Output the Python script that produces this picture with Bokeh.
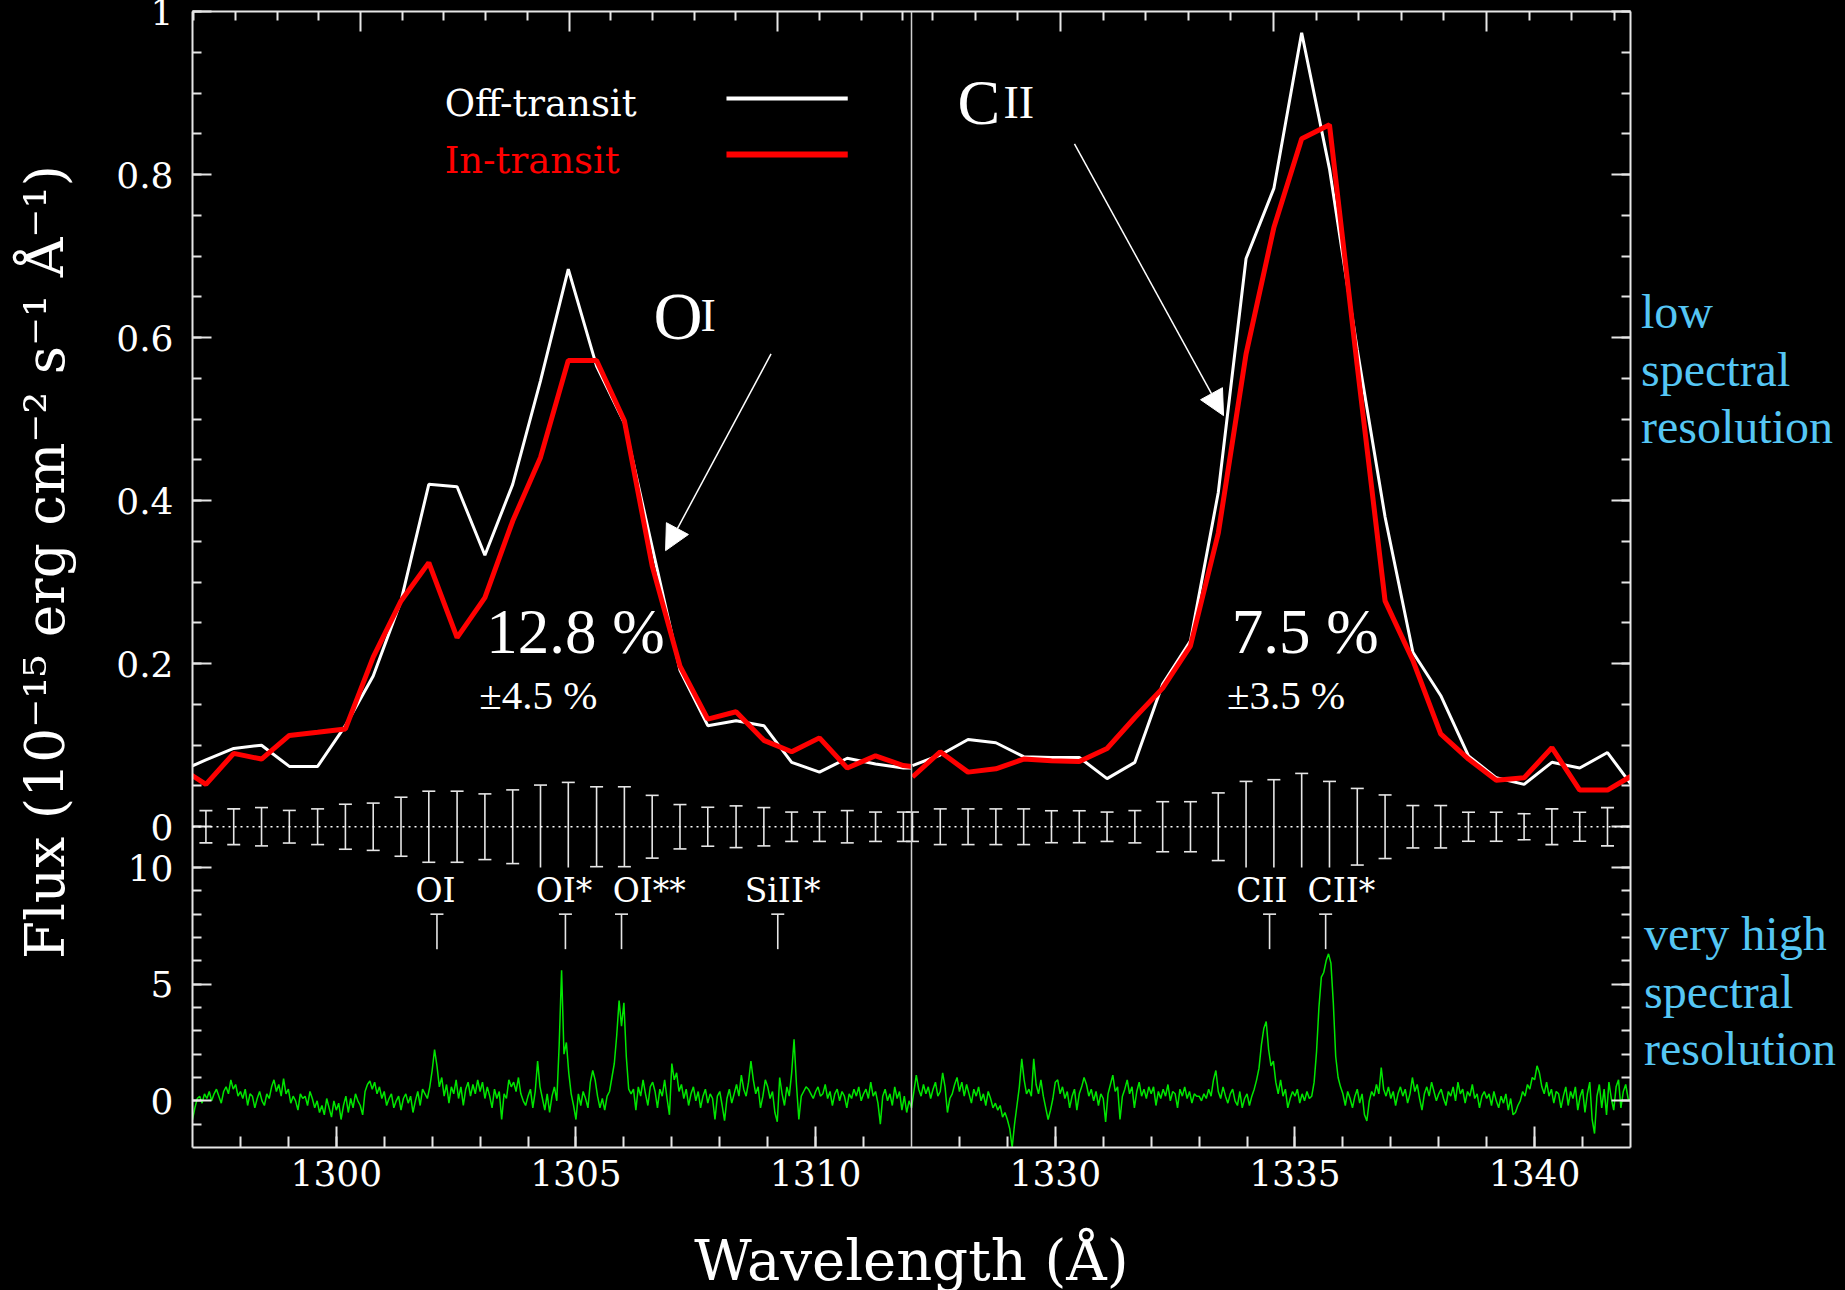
import numpy as np
from bokeh.plotting import figure
from bokeh.layouts import row
from bokeh.models import (Range1d, LinearAxis, FixedTicker, Label, Arrow, NormalHead, Span,
                          Div, CustomJSTickFormatter)
from bokeh.embed import file_html
from bokeh.resources import INLINE
from bokeh.core.properties import value

# ---------------------------------------------------------------- data
# wavelength windows shown side by side (Angstrom)
X_LEFT = (1297.0, 1312.0)
X_RIGHT = (1327.0, 1342.0)

# low-resolution spectra, OI window (bin centres)
OI_BINS = [1297.28, 1297.86, 1298.44, 1299.02, 1299.61, 1300.19, 1300.77, 1301.35,
           1301.93, 1302.52, 1303.10, 1303.68, 1304.26, 1304.84, 1305.43, 1306.01,
           1306.59, 1307.17, 1307.75, 1308.34, 1308.92, 1309.50, 1310.08, 1310.66,
           1311.25, 1311.83]
OI_EDGES = (1296.70, 1312.00)          # points where the curves meet the window edges
OI_OFF = [0.067, 0.082, 0.096, 0.100, 0.074, 0.074, 0.124, 0.185, 0.277, 0.420,
          0.417, 0.333, 0.420, 0.547, 0.684, 0.565, 0.495, 0.343, 0.192, 0.124,
          0.130, 0.124, 0.079, 0.067, 0.084, 0.077, 0.072, 0.072]
OI_IN = [0.074, 0.052, 0.090, 0.083, 0.112, 0.116, 0.120, 0.208, 0.277, 0.324,
         0.232, 0.281, 0.375, 0.453, 0.572, 0.572, 0.498, 0.320, 0.197, 0.132,
         0.141, 0.106, 0.092, 0.109, 0.072, 0.087, 0.075, 0.074]
OI_ERR = [0.0198, 0.0219, 0.0235, 0.0200, 0.0219, 0.0276, 0.0290, 0.0362, 0.0436,
          0.0436, 0.0403, 0.0452, 0.0511, 0.0544, 0.0490, 0.0490, 0.0385, 0.0272,
          0.0239, 0.0256, 0.0235, 0.0180, 0.0180, 0.0198, 0.0180, 0.0180]

# low-resolution spectra, CII window
CII_BINS = [1327.02, 1327.60, 1328.18, 1328.76, 1329.34, 1329.92, 1330.50, 1331.08,
            1331.66, 1332.24, 1332.82, 1333.40, 1333.98, 1334.56, 1335.14, 1335.72,
            1336.30, 1336.88, 1337.46, 1338.04, 1338.62, 1339.20, 1339.78, 1340.36,
            1340.94, 1341.52]
CII_EDGE = 1342.10
CII_OFF = [0.075, 0.088, 0.107, 0.103, 0.086, 0.085, 0.085, 0.059, 0.079, 0.175,
           0.228, 0.410, 0.697, 0.783, 0.974, 0.807, 0.585, 0.380, 0.214, 0.161,
           0.087, 0.060, 0.052, 0.079, 0.072, 0.091, 0.045]
CII_IN = [0.061, 0.092, 0.067, 0.071, 0.083, 0.081, 0.080, 0.096, 0.134, 0.170,
          0.222, 0.360, 0.580, 0.735, 0.844, 0.861, 0.565, 0.277, 0.204, 0.114,
          0.083, 0.057, 0.060, 0.097, 0.045, 0.045, 0.065]
CII_ERR = [0.0180, 0.0219, 0.0219, 0.0219, 0.0219, 0.0196, 0.0196, 0.0180, 0.0198,
           0.0307, 0.0307, 0.0415, 0.0556, 0.0577, 0.0654, 0.0556, 0.0470, 0.0390,
           0.0260, 0.0260, 0.0178, 0.0178, 0.0160, 0.0219, 0.0178, 0.0235]

# very high resolution spectrum (sampled every 0.05 A from the window start)
HIRES_STEP = 0.05
HIRES_LEFT = [
    -0.8, -0.3, 0.1, 0.2, -0.1, 0.3, 0.1, 0.4, 0.0, 0.3, 0.5, 0.2, -0.1, 0.4, 0.6, 0.3, 0.9, 0.5, 0.7, 0.2,
    0.4, 0.1, 0.5, -0.2, 0.3, 0.2, -0.3, 0.1, 0.4, 0.0, -0.2, 0.3, 0.1, 0.6, 0.9, 0.4, 0.7, 0.2, 0.95, 0.3,
    0.5, -0.1, 0.2, 0.0, -0.4, 0.3, 0.1, 0.2, -0.2, 0.4, 0.1, -0.3, 0.0, -0.5, -0.2, -0.6, 0.1, -0.3, -0.7, 0.0,
    -0.4, -0.1, -0.8, -0.2, 0.2, -0.5, 0.1, -0.3, 0.3, 0.0, -0.2, -0.6, 0.4, 0.7, 0.85, 0.5, 0.8, 0.3, 0.6, 0.1,
    0.4, -0.2, 0.1, 0.3, -0.3, 0.0, 0.2, -0.4, 0.1, 0.3, -0.1, 0.2, -0.5, 0.0, 0.4, -0.2, 0.5, 0.3, 0.1, 0.6,
    1.3, 2.2, 1.5, 0.6, 1.0, 0.2, 0.7, -0.1, 0.6, 0.3, 0.9, 0.1, 0.6, -0.2, 0.5, 0.8, 0.2, 0.7, 0.3, 0.9,
    0.4, 0.8, 0.1, 0.6, 0.2, -0.3, 0.5, 0.1, 0.4, -0.8, 0.3, 0.1, 0.9, 0.6, 0.8, 0.4, 1.0, 0.3, 0.0, -0.2,
    0.2, 0.5, -0.3, 0.4, 1.7, 0.6, 0.1, -0.4, 0.3, -0.5, 0.2, 0.6, 0.0, 2.4, 5.6, 2.0, 2.5, 1.2, 0.3, -0.2,
    -0.8, 0.3, -0.2, 0.4, 0.1, -0.3, 0.8, 1.3, 0.9, 0.2, -0.3, 0.1, -0.4, 0.2, 0.4, 1.0, 1.6, 2.8, 4.3, 3.2,
    4.2, 1.9, 0.5, 0.3, 0.5, -0.4, 0.6, 0.2, 0.9, 0.3, -0.2, 0.6, 0.8, 0.4, -0.3, 0.5, 0.2, 0.9, 0.1, -0.6,
    1.6, 0.9, 1.2, 0.4, 0.7, 0.1, 0.5, -0.2, 0.3, 0.6, 0.0, 0.4, -0.3, 0.2, 0.5, -0.1, 0.3, 0.1, -0.8, 0.2,
    0.4, -0.2, -0.85, 0.1, 0.5, -0.1, 0.3, 0.7, 0.2, 1.1, 0.5, 0.2, 0.8, 1.7, 0.9, 0.3, 0.6, -0.3, 0.2, 0.9,
    0.6, 0.1, 0.4, -0.5, -0.9, 1.0, 0.3, -0.2, 0.6, 0.2, 1.2, 2.64, 0.7, -0.8, 0.2, 0.4, 0.6, 0.5, 0.3, 0.1,
    0.4, 0.6, 0.2, 0.3, 0.7, 0.1, 0.4, -0.2, 0.3, 0.5, 0.0, 0.4, 0.2, -0.3, 0.3, 0.1, 0.5, 0.2, 0.6, 0.0,
    0.3, 0.5, 0.1, 0.8, 0.2, 0.4, -0.1, -1.0, 0.2, 0.5, 0.0, 0.3, -0.2, 0.6, 0.1, 0.4, -0.4, 0.2, -0.5, 0.0,
    -0.3]
HIRES_RIGHT = [
    -0.3, 0.4, 1.1, 0.5, 0.2, 0.7, 0.3, 0.6, 0.1, 0.5, 0.8, 0.2, 0.4, 1.2, 0.6, -0.5, 0.1, 0.3, 0.7, 1.0,
    0.4, 0.8, 0.2, 0.7, 0.3, -0.1, 0.5, 0.2, 0.6, 0.0, 0.3, -0.2, 0.4, 0.1, -0.3, -0.1, -0.4, -0.2, -0.7, -0.5,
    -0.8, -1.2, -2.0, -1.0, -0.2, 0.6, 1.8, 0.9, 0.3, 0.5, 0.2, 1.8, 0.7, 0.3, 0.9, 0.2, -0.3, -0.8, -0.4, 0.1,
    0.8, 0.9, 0.3, 0.6, 0.1, 0.4, -0.3, 0.2, 0.5, -0.4, 0.3, 0.6, 1.0, 0.7, 0.2, 0.5, 0.0, 0.4, -0.2, 0.3,
    0.1, -0.9, 0.3, 0.7, 1.1, 0.4, 0.6, -0.8, 0.2, 0.5, 0.9, 0.3, 0.6, -0.3, 0.4, 0.8, 0.2, 0.5, 0.1, 0.6,
    0.3, 0.6, -0.2, 0.4, 0.1, 0.5, 0.2, 0.7, 0.0, 0.4, 0.3, -0.3, 0.5, 0.2, 0.6, 0.1, 0.4, -0.1, 0.3, 0.2,
    0.2, 0.0, 0.3, 0.1, 0.5, 0.2, 0.9, 1.3, 0.4, 0.1, 0.6, 0.2, -0.1, 0.3, 0.5, 0.0, -0.2, 0.4, -0.3, 0.1,
    0.3, -0.2, 0.2, 0.5, 0.9, 1.4, 2.4, 3.1, 3.4, 2.2, 1.5, 1.7, 0.8, 0.3, 0.9, 0.2, 0.5, -0.3, 0.1, 0.4,
    0.2, 0.5, -0.1, 0.3, 0.0, 0.4, 0.1, 0.2, 0.8, 2.1, 4.0, 5.3, 5.5, 6.0, 6.3, 5.9, 4.2, 1.9, 1.0, 0.6,
    0.3, -0.2, 0.4, 0.1, -0.3, 0.2, 0.5, -0.1, 0.3, -0.6, -0.86, 0.0, 0.4, 0.2, 0.7, 0.3, 1.43, 0.5, 0.2, 0.6,
    0.1, 0.4, -0.2, 0.3, 0.6, 0.2, 0.5, -0.1, 0.3, 1.0, 0.4, 0.7, 0.1, -0.4, 0.3, 0.6, 0.2, 0.8, 0.4, 0.0,
    0.3, 0.5, 0.1, -0.2, 0.4, 0.2, 0.6, 0.0, 0.8, 0.3, 0.5, -0.1, 0.4, 0.2, 0.7, 0.1, 0.3, -0.3, 0.2, 0.4,
    0.1, 0.3, -0.2, 0.4, 0.0, -0.3, 0.2, -0.1, 0.3, -0.4, 0.1, -0.6, -0.5, -0.2, 0.0, 0.4, 0.2, 0.7, 0.5, 1.0,
    0.9, 1.5, 1.2, 0.6, 0.3, 0.8, 0.2, 0.5, -0.1, 0.4, 0.3, -0.3, 0.2, 0.6, -0.2, 0.4, 0.1, 0.6, -0.4, 0.2,
    0.5, -0.5, 0.3, 0.8, -0.8, -1.4, 0.2, 0.7, -0.3, 0.5, -0.6, 0.8, 0.1, -0.4, 0.6, 0.9, -0.3, 0.4, 0.7, 0.1,
    0.0]

# line identifications in the high resolution panel
LINES_LEFT_NAMES = ["OI", "OI*", "OI**", "SiII*"]
LINES_LEFT_WAVE = [1302.10, 1304.78, 1305.95, 1309.21]
LINES_LEFT_LABEL_X = [1302.07, 1304.75, 1306.53, 1309.31]
LINES_RIGHT_NAMES = ["CII", "CII*"]
LINES_RIGHT_WAVE = [1334.47, 1335.64]
LINES_RIGHT_LABEL_X = [1334.31, 1335.97]

# tick values
Y_TICKS_UPPER = [0, 0.2, 0.4, 0.6, 0.8, 1.0]
Y_TICK_LABELS_UPPER = ["0", "0.2", "0.4", "0.6", "0.8", "1"]
Y_TICKS_LOWER = [0, 5, 10]
X_TICKS_LEFT = [1300, 1305, 1310]
X_TICKS_RIGHT = [1330, 1335, 1340]
TOP_SCALE_LEFT = (1295.97, 1313.21)    # top-axis scale of the low-res panel
TOP_SCALE_RIGHT = (1326.50, 1343.38)

# ---------------------------------------------------------------- layout
UPPER_Y = (-0.05, 1.0)       # flux panel
LOWER_Y = (-2.0, 10.0)       # high-resolution panel
FRAME_W, FRAME_H = 1438, 1136
LOWER_FRACTION = 280.0 / FRAME_H

main_span = (UPPER_Y[1] - UPPER_Y[0]) / (1.0 - LOWER_FRACTION)
Y0 = UPPER_Y[1] - main_span
LOW_END = LOWER_Y[0] + (LOWER_Y[1] - LOWER_Y[0]) / LOWER_FRACTION
SHIFT = X_RIGHT[0] - X_LEFT[1]


def low_to_main(w):
    return round(Y0 + (w - LOWER_Y[0]) / (LOW_END - LOWER_Y[0]) * (UPPER_Y[1] - Y0), 6)


def right_to_main(x):
    return x - SHIFT


def top_to_main(t, scale, win):
    return round(win[0] + (t - scale[0]) / (scale[1] - scale[0]) * (win[1] - win[0]), 6)


FG = "#e6e6e6"
TICK_FONT = "DejaVu Serif"
ANN_FONT = "Liberation Serif"
CYAN = "#55c6f4"
NOTE_W, NOTE_H = 201, 1288

p = figure(frame_width=FRAME_W, frame_height=FRAME_H,
           x_range=Range1d(X_LEFT[0], X_LEFT[1] + (X_RIGHT[1] - X_RIGHT[0])),
           y_range=Range1d(Y0, UPPER_Y[1]),
           x_axis_type=None, y_axis_type=None,
           output_backend="svg", toolbar_location=None,
           min_border_left=192, min_border_right=10,
           min_border_top=11, min_border_bottom=0,
           background_fill_color="black", border_fill_color="black")
p.outline_line_color = None
p.extra_x_ranges = {"right": Range1d(X_RIGHT[0] - (X_LEFT[1] - X_LEFT[0]), X_RIGHT[1])}
p.extra_y_ranges = {"low": Range1d(LOWER_Y[0], LOW_END)}

# ---------------------------------------------------------------- axes
y_major = list(Y_TICKS_UPPER) + [low_to_main(w) for w in Y_TICKS_LOWER]
y_minor = [round(v, 4) for v in np.arange(0, 1.0001, 0.05)] + \
          [low_to_main(w) for w in range(-1, 11)]
y_labels = dict(zip(Y_TICKS_UPPER, Y_TICK_LABELS_UPPER))
y_labels.update({low_to_main(w): str(w) for w in Y_TICKS_LOWER})

x_major = list(X_TICKS_LEFT) + [right_to_main(v) for v in X_TICKS_RIGHT]
x_minor = list(range(int(X_LEFT[0]) + 1, int(X_LEFT[1]))) + \
          [right_to_main(v) for v in range(int(X_RIGHT[0]) + 1, int(X_RIGHT[1]))]
x_labels = {v: str(v) for v in X_TICKS_LEFT}
x_labels.update({right_to_main(v): str(v) for v in X_TICKS_RIGHT})

win_r = (X_LEFT[1], X_LEFT[1] + (X_RIGHT[1] - X_RIGHT[0]))
top_major, top_minor = [], []
for t in range(1296, 1314):
    m = top_to_main(t, TOP_SCALE_LEFT, X_LEFT)
    if X_LEFT[0] < m < X_LEFT[1]:
        (top_major if t % 5 == 0 else top_minor).append(m)
for t in range(1327, 1344):
    m = top_to_main(t, TOP_SCALE_RIGHT, win_r)
    if win_r[0] < m < win_r[1]:
        (top_major if t % 5 == 0 else top_minor).append(m)


def style(ax, tick_in, minor_in, show_labels):
    ax.axis_line_color = FG
    ax.axis_line_width = 2
    ax.major_tick_line_color = FG
    ax.minor_tick_line_color = FG
    ax.major_tick_line_width = 2
    ax.minor_tick_line_width = 2
    ax.major_tick_in = tick_in
    ax.major_tick_out = 0
    ax.minor_tick_in = minor_in
    ax.minor_tick_out = 0
    if show_labels:
        ax.major_label_text_font = TICK_FONT
        ax.major_label_text_font_size = "36px"
        ax.major_label_text_color = "white"
    else:
        ax.formatter = CustomJSTickFormatter(code="return ''")
        ax.major_label_text_font_size = "8px"
        ax.major_label_standoff = 0


left = LinearAxis(ticker=FixedTicker(ticks=y_major, minor_ticks=y_minor),
                  major_label_overrides=y_labels)
style(left, 19, 9, True)
left.major_label_standoff = 19
# two leading no-break spaces shift the centred title slightly towards the top
left.axis_label = "\u00a0\u00a0Flux (10\u207b\u00b9\u2075 erg cm\u207b\u00b2 s\u207b\u00b9 \u00c5\u207b\u00b9)"
left.axis_label_text_font = TICK_FONT
left.axis_label_text_font_size = "55px"
left.axis_label_text_font_style = "normal"
left.axis_label_text_color = "white"
left.axis_label_standoff = 36
p.add_layout(left, "left")

right = LinearAxis(ticker=FixedTicker(ticks=y_major, minor_ticks=y_minor))
style(right, 19, 9, False)
p.add_layout(right, "right")

bottom = LinearAxis(ticker=FixedTicker(ticks=x_major, minor_ticks=x_minor),
                    major_label_overrides=x_labels)
style(bottom, 21, 11, True)
bottom.major_label_standoff = 12
bottom.axis_label = "Wavelength (\u00c5)"
bottom.axis_label_text_font = TICK_FONT
bottom.axis_label_text_font_size = "56px"
bottom.axis_label_text_font_style = "normal"
bottom.axis_label_text_color = "white"
bottom.axis_label_standoff = 39
p.add_layout(bottom, "below")

top = LinearAxis(ticker=FixedTicker(ticks=top_major, minor_ticks=top_minor))
style(top, 20, 9, False)
p.add_layout(top, "above")

# divider between the two windows and zero line of the flux panel
p.add_layout(Span(location=X_LEFT[1], dimension="height", line_color="#cfcfcf", line_width=1.5))
p.add_layout(Span(location=0, dimension="width", line_color="white", line_width=1.5,
                  line_dash="2 4"))

# ---------------------------------------------------------------- error bars
def error_bars(xs, errs, x_range_name="default"):
    lo = [max(-e, UPPER_Y[0]) for e in errs]
    p.segment(x0=xs, y0=lo, x1=xs, y1=errs, line_color=FG, line_width=1.6,
              x_range_name=x_range_name)
    p.scatter(xs, errs, marker="dash", size=13, line_color=FG, line_width=1.6,
              x_range_name=x_range_name)
    cx = [x for x, e in zip(xs, errs) if -e >= UPPER_Y[0]]
    cy = [-e for e in errs if -e >= UPPER_Y[0]]
    p.scatter(cx, cy, marker="dash", size=13, line_color=FG, line_width=1.6,
              x_range_name=x_range_name)


error_bars(OI_BINS, OI_ERR)
error_bars(CII_BINS, CII_ERR, "right")

# ---------------------------------------------------------------- low-res spectra
oi_wave = [OI_EDGES[0]] + OI_BINS + [OI_EDGES[1]]
cii_wave = CII_BINS + [CII_EDGE]
p.line(oi_wave, OI_OFF, line_color="white", line_width=3)
p.line(cii_wave, CII_OFF, line_color="white", line_width=3, x_range_name="right")
p.line(oi_wave, OI_IN, line_color="#ff0000", line_width=5)
p.line(cii_wave, CII_IN, line_color="#ff0000", line_width=5, x_range_name="right")

# ---------------------------------------------------------------- high-res spectrum
hl_x = X_LEFT[0] + HIRES_STEP * np.arange(len(HIRES_LEFT))
hr_x = X_RIGHT[0] + HIRES_STEP * np.arange(len(HIRES_RIGHT))
p.line(hl_x, HIRES_LEFT, line_color="#00e600", line_width=1.5, y_range_name="low")
p.line(hr_x, HIRES_RIGHT, line_color="#00e600", line_width=1.5, y_range_name="low",
       x_range_name="right")

MARK_TOP, MARK_BOTTOM, MARK_LABEL_Y = 8.0, 6.5, 9.0
for waves, names, lx, xr in [(LINES_LEFT_WAVE, LINES_LEFT_NAMES, LINES_LEFT_LABEL_X, "default"),
                             (LINES_RIGHT_WAVE, LINES_RIGHT_NAMES, LINES_RIGHT_LABEL_X, "right")]:
    n = len(waves)
    p.segment(x0=waves, y0=[MARK_BOTTOM] * n, x1=waves, y1=[MARK_TOP] * n,
              line_color=FG, line_width=1.6, y_range_name="low", x_range_name=xr)
    p.scatter(waves, [MARK_TOP] * n, marker="dash", size=13, line_color=FG,
              line_width=1.6, y_range_name="low", x_range_name=xr)
    p.text(lx, [MARK_LABEL_Y] * n, text=names, text_align="center",
           text_baseline="alphabetic", text_font=value(TICK_FONT),
           text_font_size="33px", text_color="white", y_range_name="low",
           x_range_name=xr)

# ---------------------------------------------------------------- annotations
def label(x, y, text, size, color="white", font=ANN_FONT, xr="default", yr="default"):
    p.add_layout(Label(x=x, y=y, text=text, text_font=font, text_font_size=size,
                       text_color=color, text_align="left", text_baseline="alphabetic",
                       x_range_name=xr, y_range_name=yr))


# legend
LEGEND_KEY_X = (1308.14, 1310.67)
label(1302.26, 0.8871, "Off-transit", "37px", "white", TICK_FONT)
label(1302.26, 0.8172, "In-transit", "37px", "#ff0000", TICK_FONT)
p.line(list(LEGEND_KEY_X), [0.8933, 0.8933], line_color="white", line_width=4)
p.line(list(LEGEND_KEY_X), [0.8245, 0.8245], line_color="#ff0000", line_width=6)

# species labels and arrows
label(1306.62, 0.627, "O", "68px")
label(1307.60, 0.627, "I", "46px")
label(1327.96, 0.888, "C", "64px", xr="right")
label(1328.92, 0.888, "II", "46px", xr="right")
p.add_layout(Arrow(x_start=1309.07, y_start=0.580, x_end=1306.87, y_end=0.3387,
                   line_color="white", line_width=1.5,
                   end=NormalHead(size=25, fill_color="white", line_color="white")))
p.add_layout(Arrow(x_start=1330.40, y_start=0.8377, x_end=1333.51, y_end=0.5043,
                   line_color="white", line_width=1.5, x_range_name="right",
                   end=NormalHead(size=25, fill_color="white", line_color="white")))

# absorption depths
label(1303.13, 0.2390, "12.8 %", "63px")
label(1302.98, 0.1610, "\u00b14.5 %", "41px")
label(1333.68, 0.2390, "7.5 %", "63px", xr="right")
label(1333.58, 0.1610, "\u00b13.5 %", "41px", xr="right")

# resolution notes in the right margin
NOTE_STYLE = ("position:absolute;font-family:'Liberation Serif',serif;font-size:48px;"
              "line-height:57.5px;color:%s;white-space:nowrap;" % CYAN)
notes = Div(width=NOTE_W, height=NOTE_H, text=(
    '<div style="position:relative;width:%dpx;height:%dpx;">' % (NOTE_W, NOTE_H) +
    '<div style="%sleft:-4px;top:278px;">low<br>spectral<br>resolution</div>' % NOTE_STYLE +
    '<div style="%sleft:-1px;top:900px;">very high<br>spectral<br>resolution</div>' % NOTE_STYLE +
    '</div>'))

layout = row(p, notes)
html = file_html(layout, INLINE)
html = html.replace("<body>", "<body style=\"background-color:#000000;margin:0;overflow:hidden;\">")
open("out.html", "w").write(html)
